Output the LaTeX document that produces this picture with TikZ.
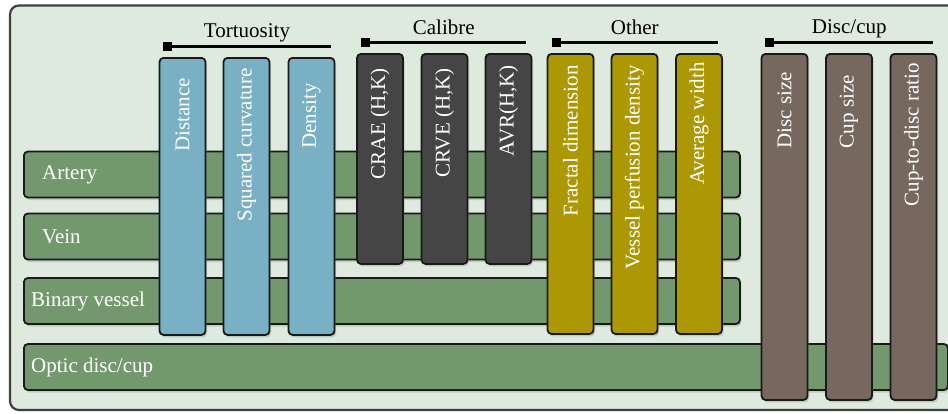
\documentclass[tikz,border=0pt]{standalone}
\usepackage{fontspec}
\setmainfont{Liberation Serif}
\usetikzlibrary{arrows.meta, shadows, calc, positioning}
\definecolor{panelbg}{HTML}{DDEADD}
\definecolor{rowgreen}{HTML}{74986E}
\definecolor{tortblue}{HTML}{79B0C4}
\definecolor{calgray}{HTML}{454545}
\definecolor{otherolive}{HTML}{AC9805}
\definecolor{discbrown}{HTML}{77685F}
\tikzset{>=latex,
  boxshadow/.style={drop shadow={shadow xshift=1.5pt, shadow yshift=-2.5pt, opacity=.3}},
  rowbar/.style={draw=black!90, line width=1.8pt, fill=rowgreen, rounded corners=4pt,
    minimum height=46pt, anchor=west, inner sep=0pt, boxshadow},
  colbar/.style={draw=black!90, line width=1.8pt, rounded corners=4pt,
    minimum width=46pt, anchor=north, inner sep=0pt, boxshadow},
  rowtext/.style={text=white, font=\fontsize{21}{25}\selectfont, inner sep=0pt, anchor=west},
  coltext/.style={rowtext, rotate=90, anchor=east},
  hdrtext/.style={font=\fontsize{21}{25}\selectfont, inner sep=0pt, anchor=base},
  hdrline/.style={line width=2.5pt, {Square[length=9pt,width=9pt]}-}
}
\begin{document}
\begin{tikzpicture}[x=1pt, y=-1pt]
\clip (0,0) rectangle (948,413);
\fill[white] (0,0) rectangle (948,413);
% panel
\draw[draw=black!75, line width=2.2pt, fill=panelbg, rounded corners=9pt] (10,5.5) rectangle (970,410);
% rows
\node[rowbar, minimum width=716pt] (artery) at (23,174.5) {};
\node[rowbar, minimum width=716pt] (vein) at (23,236.5) {};
\node[rowbar, minimum width=716pt] (binary) at (23,301) {};
\node[rowbar, minimum width=924pt] (optic) at (23,367) {};
\node[rowtext, right=19pt of artery.west] (artery-t) {Artery};
\node[rowtext, right=19pt of vein.west] (vein-t) {Vein};
\node[rowtext, right=8pt of binary.west] (binary-t) {Binary vessel};
\node[rowtext, right=8pt of optic.west] (optic-t) {Optic disc/cup};
% tortuosity
\node[colbar, fill=tortblue, minimum height=277pt] (dist) at (182.5,57) {};
\node[colbar, fill=tortblue, minimum height=277pt] (sqc) at (246.5,57) {};
\node[colbar, fill=tortblue, minimum height=277pt] (dens) at (311.5,57) {};
% calibre
\node[colbar, fill=calgray, minimum height=210pt] (crae) at (380,53) {};
\node[colbar, fill=calgray, minimum height=210pt] (crve) at (444.5,53) {};
\node[colbar, fill=calgray, minimum height=210pt] (avr) at (508.5,53) {};
% other
\node[colbar, fill=otherolive, minimum height=280pt] (fract) at (570.5,53) {};
\node[colbar, fill=otherolive, minimum height=280pt] (vpd) at (634.5,53) {};
\node[colbar, fill=otherolive, minimum height=280pt] (avgw) at (699,53) {};
% disc/cup
\node[colbar, fill=discbrown, minimum height=346pt] (discs) at (784.5,53) {};
\node[colbar, fill=discbrown, minimum height=346pt] (cups) at (849,53) {};
\node[colbar, fill=discbrown, minimum height=346pt] (cdr) at (913.5,53) {};
% column labels
\node[coltext] (dist-t) at ([yshift=-21pt]dist.north) {Distance};
\node[coltext] (sqc-t) at ([yshift=-11pt]sqc.north) {Squared curvature};
\node[coltext] (dens-t) at ([yshift=-26pt]dens.north) {Density};
\node[coltext] (crae-t) at ([yshift=-15pt]crae.north) {CRAE (H,K)};
\node[coltext] (crve-t) at ([yshift=-15pt]crve.north) {CRVE (H,K)};
\node[coltext] (avr-t) at ([yshift=-12pt]avr.north) {AVR(H,K)};
\node[coltext] (fract-t) at ([yshift=-12pt]fract.north) {Fractal dimension};
\node[coltext] (vpd-t) at ([yshift=-12pt]vpd.north) {Vessel perfusion density};
\node[coltext] (avgw-t) at ([yshift=-9pt]avgw.north) {Average width};
\node[coltext] (discs-t) at ([yshift=-19pt]discs.north) {Disc size};
\node[coltext] (cups-t) at ([yshift=-22pt]cups.north) {Cup size};
\node[coltext] (cdr-t) at ([yshift=-10pt]cdr.north) {Cup-to-disc ratio};
% group headers
\coordinate (tort-l) at ([xshift=4pt, yshift=10.5pt]dist.north west);
\coordinate (tort-r) at ([xshift=-4pt, yshift=10.5pt]dens.north east);
\coordinate (cal-l) at ([xshift=5pt, yshift=10.5pt]crae.north west);
\coordinate (cal-r) at ([xshift=-6pt, yshift=10.5pt]avr.north east);
\coordinate (oth-l) at ([xshift=5pt, yshift=10.5pt]fract.north west);
\coordinate (oth-r) at ([xshift=-5pt, yshift=10.5pt]avgw.north east);
\coordinate (disc-l) at ([xshift=4.5pt, yshift=10.5pt]discs.north west);
\coordinate (disc-r) at ([xshift=-4pt, yshift=10.5pt]cdr.north east);
\draw[hdrline] (tort-l) -- (tort-r);
\draw[hdrline] (cal-l) -- (cal-r);
\draw[hdrline] (oth-l) -- (oth-r);
\draw[hdrline] (disc-l) -- (disc-r);
\node[hdrtext] (tort) at ([yshift=9pt]$(tort-l)!.5!(tort-r)$) {Tortuosity};
\node[hdrtext] (cal) at ([yshift=8pt]$(cal-l)!.5!(cal-r)$) {Calibre};
\node[hdrtext] (oth) at ([yshift=8pt]$(oth-l)!.5!(oth-r)$) {Other};
\node[hdrtext] (disc) at ([yshift=9pt]$(disc-l)!.5!(disc-r)$) {Disc/cup};
\end{tikzpicture}
\end{document}
